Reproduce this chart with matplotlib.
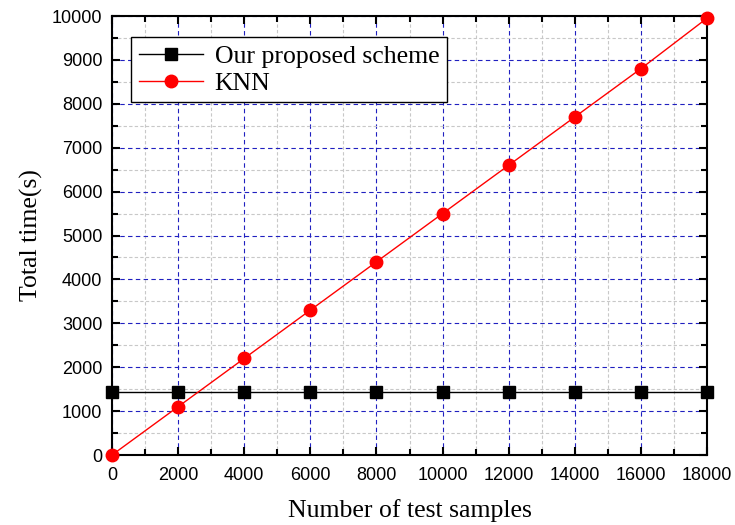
import matplotlib
matplotlib.use('Agg')
import matplotlib.pyplot as plt
from matplotlib.ticker import MultipleLocator

# data
samples = [0, 2000, 4000, 6000, 8000, 10000, 12000, 14000, 16000, 18000]
proposed_time = [1430, 1430, 1430, 1430, 1430, 1430, 1430, 1430, 1430, 1430]
knn_time = [0, 1100, 2200, 3300, 4400, 5500, 6600, 7700, 8800, 9950]

plt.rcParams['font.family'] = ['Liberation Sans', 'DejaVu Sans']

fig = plt.figure(figsize=(7.35, 5.25), dpi=100)
ax = fig.add_axes([112 / 735, 70 / 525, 595 / 735, 439 / 525])

ax.plot(samples, proposed_time, color='black', lw=1, marker='s', ms=8.5,
        label='Our proposed scheme', zorder=3, clip_on=False)
ax.plot(samples, knn_time, color='red', lw=1, marker='o', ms=9,
        label='KNN', zorder=3, clip_on=False)

ax.set_xlim(0, 18000)
ax.set_ylim(0, 10000)
ax.xaxis.set_major_locator(MultipleLocator(2000))
ax.xaxis.set_minor_locator(MultipleLocator(1000))
ax.yaxis.set_major_locator(MultipleLocator(1000))
ax.yaxis.set_minor_locator(MultipleLocator(500))

ax.grid(which='major', color='#2020c0', ls=(0, (4, 3)), lw=0.8)
ax.grid(which='minor', color='#c8c8c8', ls=(0, (3, 2)), lw=0.8)
ax.set_axisbelow(True)

ax.tick_params(which='both', direction='in', top=True, right=True, width=1.5,
               labelsize=13)
ax.tick_params(axis='x', which='major', pad=8.5)
ax.tick_params(axis='y', which='major', pad=7)
ax.tick_params(which='major', length=6)
ax.tick_params(which='minor', length=4)
for s in ax.spines.values():
    s.set_linewidth(1.5)

ax.set_xlabel('Number of test samples', family='Liberation Serif', fontsize=18.5,
              labelpad=11)
ax.set_ylabel('Total time(s)', family='Liberation Serif', fontsize=18.5,
              labelpad=6)

leg = ax.legend(loc='upper left', bbox_to_anchor=(0.032, 0.952), borderaxespad=0,
                fancybox=False, edgecolor='black', framealpha=1,
                prop={'family': 'Liberation Serif', 'size': 18.5},
                handlelength=2.5, handletextpad=0.45, borderpad=0.3, labelspacing=0.15)
leg.get_frame().set_linewidth(1)

fig.savefig('out.png', dpi=100)
